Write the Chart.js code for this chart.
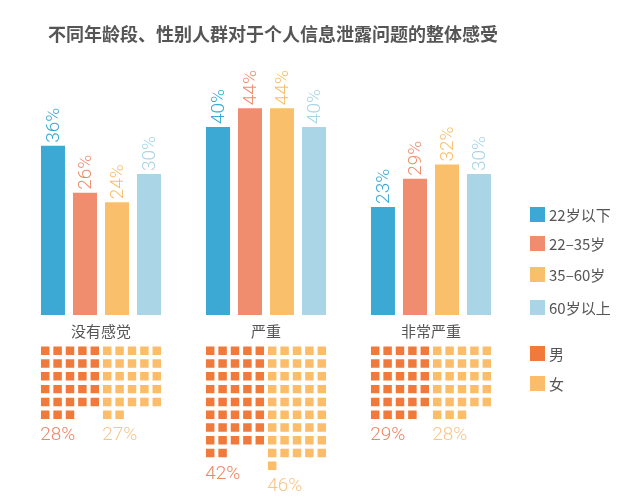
<!DOCTYPE html>
<html lang="zh">
<head>
    <meta charset="UTF-8">
    <title>不同年龄段、性别人群对于个人信息泄露问题的整体感受</title>
    <style>
        body {
            margin: 0;
            background-color: #fff;
            font-family: "Noto Sans CJK SC", sans-serif;
        }
        #wrap {
            position: relative;
            width: 640px;
            height: 502px;
        }
        #wrap canvas {
            position: absolute;
            left: 0;
            top: 0;
        }
        #title {
            position: absolute;
            left: 48px;
            top: 20px;
            font-size: 18px;
            font-weight: bold;
            color: #555;
            white-space: nowrap;
        }
        .legend-item {
            position: absolute;
            left: 530px;
            height: 16px;
            font-size: 15px;
            line-height: 16px;
            color: #555;
            white-space: nowrap;
        }
        .legend-item span {
            display: inline-block;
            width: 15px;
            height: 15px;
            margin-right: 4px;
            vertical-align: top;
        }
    </style>
</head>
<body>
<div id="wrap">
    <canvas id="bars" width="640" height="502"></canvas>
    <canvas id="waffle" width="640" height="502"></canvas>
    <div id="title">不同年龄段、性别人群对于个人信息泄露问题的整体感受</div>
    <div id="legend"></div>
</div>
<script src="https://cdn.jsdelivr.net/npm/chart.js"></script>
<script>
// data
const categories = ['没有感觉', '严重', '非常严重'];
const ageGroups = ['22岁以下', '22–35岁', '35–60岁', '60岁以上'];
const under22 = [36, 40, 23];
const age22to35 = [26, 44, 29];
const age35to60 = [24, 44, 32];
const over60 = [30, 40, 30];
const genders = ['男', '女'];
const male = [28, 42, 29];
const female = [27, 46, 28];

const ageColors = ['#3ca9d5', '#f08d6f', '#f9bf6b', '#a9d5e7'];
const genderColors = ['#f07a3b', '#fbbd6a'];
const genderLabelColors = ['#ee8667', '#f8c58a'];

const CELL_X = 12.4 / 165;   // column pitch, in category units
const COLS = 5;              // squares per row for each gender

// both charts share the same plot area
const PADDING = { left: 18.5, right: 126.5, top: 80, bottom: 5 };
const labelFont = '300 19px Roboto, "DejaVu Sans", sans-serif';

// one square per percent
function waffle(values, g) {
    const pts = [];
    values.forEach((v, i) => {
        for (let k = 0; k < v; k++) {
            const col = k % COLS + COLS * g;
            pts.push({ x: i + (col - 4.5) * CELL_X, y: Math.floor(k / COLS) });
        }
    });
    return pts;
}

const ageSeries = [under22, age22to35, age35to60, over60];

const barLabels = {
    id: 'barLabels',
    afterDatasetsDraw(chart) {
        const ctx = chart.ctx;
        chart.data.datasets.forEach((ds, di) => {
            chart.getDatasetMeta(di).data.forEach((bar, i) => {
                ctx.save();
                ctx.font = labelFont;
                ctx.translate(bar.x + 1, bar.y - 3);
                ctx.rotate(-Math.PI / 2);
                ctx.textAlign = 'left';
                ctx.textBaseline = 'middle';
                ctx.fillStyle = ds.backgroundColor;
                ctx.fillText(ds.data[i] + '%', 0, 0);
                ctx.restore();
            });
        });
    }
};

const waffleLabels = {
    id: 'waffleLabels',
    afterDatasetsDraw(chart) {
        const ctx = chart.ctx, sx = chart.scales.x, sy = chart.scales.y;
        chart.data.datasets.forEach(ds => {
            ds.counts.forEach((v, i) => {
                const lastRow = Math.floor((v - 1) / COLS);
                ctx.save();
                ctx.font = labelFont;
                ctx.textAlign = 'left';
                ctx.textBaseline = 'middle';
                ctx.fillStyle = genderLabelColors[ds.gender];
                ctx.fillText(v + '%',
                    sx.getPixelForValue(i + (COLS * ds.gender - 4.5) * CELL_X) - 5,
                    sy.getPixelForValue(lastRow) + 21);
                ctx.restore();
            });
        });
    }
};

new Chart(document.getElementById('bars'), {
    type: 'bar',
    data: {
        labels: categories,
        datasets: ageSeries.map((vals, s) => ({
            label: ageGroups[s],
            data: vals,
            backgroundColor: ageColors[s],
            barPercentage: 0.75,
            categoryPercentage: 0.776
        }))
    },
    options: {
        responsive: false,
        animation: false,
        layout: { padding: PADDING },
        plugins: {
            legend: { display: false },
            tooltip: { enabled: false }
        },
        scales: {
            x: {
                offset: true,
                position: { y: 0 },
                grid: { display: false, drawTicks: false },
                border: { display: false },
                ticks: {
                    padding: 7,
                    color: '#555',
                    font: { family: '"Noto Sans CJK SC"', size: 15 }
                }
            },
            // 0 sits at y=315, 50 near the top of the area
            y: { min: -38.72, max: 50, display: false }
        }
    },
    plugins: [barLabels]
});

new Chart(document.getElementById('waffle'), {
    type: 'scatter',
    data: {
        datasets: [male, female].map((vals, g) => ({
            label: genders[g],
            data: waffle(vals, g),
            counts: vals,
            gender: g,
            backgroundColor: genderColors[g],
            pointStyle: 'rect',
            pointRadius: 6,
            borderWidth: 0
        }))
    },
    options: {
        responsive: false,
        animation: false,
        layout: { padding: PADDING },
        plugins: {
            legend: { display: false },
            tooltip: { enabled: false }
        },
        scales: {
            x: { type: 'linear', min: -0.5, max: 2.5, display: false },
            y: { type: 'linear', reverse: true, min: -21.21, max: 11.37, display: false }
        }
    },
    plugins: [waffleLabels]
});

// legend
const legendItems = ageGroups.map((t, i) => ({ text: t, color: ageColors[i] }))
    .concat(genders.map((t, i) => ({ text: t, color: genderColors[i] })));
const legendTops = [207, 236, 267, 300, 346, 376];
const legend = document.getElementById('legend');
legendItems.forEach((item, i) => {
    const div = document.createElement('div');
    div.className = 'legend-item';
    div.style.top = legendTops[i] + 'px';
    div.innerHTML = '<span style="background:' + item.color + '"></span>' + item.text;
    legend.appendChild(div);
});
</script>
</body>
</html>
